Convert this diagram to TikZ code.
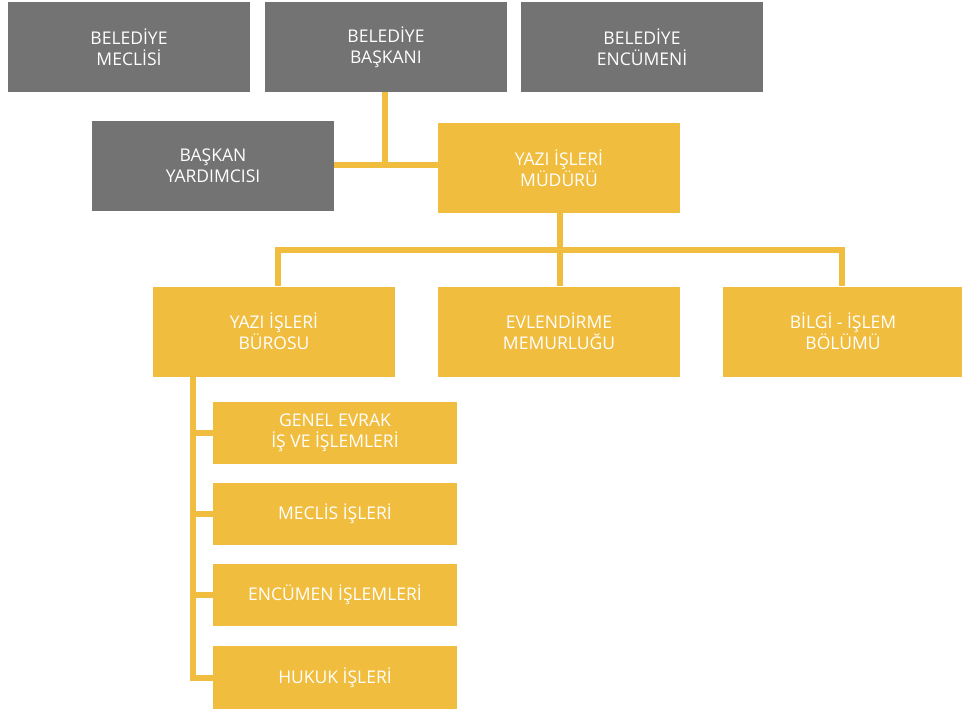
\documentclass[tikz,border=0pt]{standalone}
\usepackage{fontspec}
\setmainfont{Open Sans}
\definecolor{boxgray}{HTML}{737373}
\definecolor{boxyellow}{HTML}{F0BD3E}
\begin{document}
\begin{tikzpicture}[x=1pt,y=-1pt,
  base/.style={rectangle,inner sep=0pt,text=white,align=center,
    font=\fontsize{17.5}{21}\selectfont,minimum width=242pt,minimum height=90pt},
  graybox/.style={base,fill=boxgray},
  yellowbox/.style={base,fill=boxyellow},
  subbox/.style={base,fill=boxyellow,minimum width=244pt,minimum height=62pt},
  conn/.style={draw=boxyellow,line width=6pt}]
\useasboundingbox (0,0) rectangle (962,709);
\fill[white] (0,0) rectangle (962,709);
% nodes
\node[graybox] (mec) at (129,47) {BELEDİYE\\MECLİSİ};
\node[graybox] (bsk) at (386,47) {BELEDİYE\\BAŞKANI};
\node[graybox] (enc) at (642,47) {BELEDİYE\\ENCÜMENİ};
\node[graybox] (byd) at (213,166) {BAŞKAN\\YARDIMCISI};
\node[yellowbox] (ymd) at (559,168) {YAZI İŞLERİ\\MÜDÜRÜ};
\node[yellowbox] (buro) at (274,331.5) {YAZI İŞLERİ\\BÜROSU};
\node[yellowbox] (evl) at (559,331.5) {EVLENDİRME\\MEMURLUĞU};
\node[yellowbox,minimum width=240pt] (bil) at (843,331.5) {BİLGİ - İŞLEM\\BÖLÜMÜ};
\node[subbox] (s1) at (335,433) {GENEL EVRAK\\İŞ VE İŞLEMLERİ};
\node[subbox] (s2) at (335,514) {MECLİS İŞLERİ};
\node[subbox] (s3) at (335,595) {ENCÜMEN İŞLEMLERİ};
\node[subbox,minimum height=63pt] (s4) at (335,677.5) {HUKUK İŞLERİ};
% junction coordinates
\coordinate (j1) at (385,165);
\coordinate (j2) at (560,250);
\coordinate (jl) at (278,250);
\coordinate (jr) at (842,250);
\coordinate (jb) at (193,376);
\coordinate (je) at (193,677.5);
% connectors
\draw[conn] (bsk.south -| j1) -- (j1);
\draw[conn] (byd.east |- j1) -- (ymd.west |- j1);
\draw[conn] (ymd.south -| j2) -- (j2);
\draw[conn,line cap=rect] (jl) -- (jr);
\draw[conn] (jl) -- (buro.north -| jl);
\draw[conn] (j2) -- (evl.north -| j2);
\draw[conn] (jr) -- (bil.north -| jr);
\draw[conn] (buro.south -| jb) -- (je);
\draw[conn] (s1.west -| jb) -- (s1.west);
\draw[conn] (s2.west -| jb) -- (s2.west);
\draw[conn] (s3.west -| jb) -- (s3.west);
\draw[conn,line cap=rect] (je) -- (s4.west);
\end{tikzpicture}
\end{document}
